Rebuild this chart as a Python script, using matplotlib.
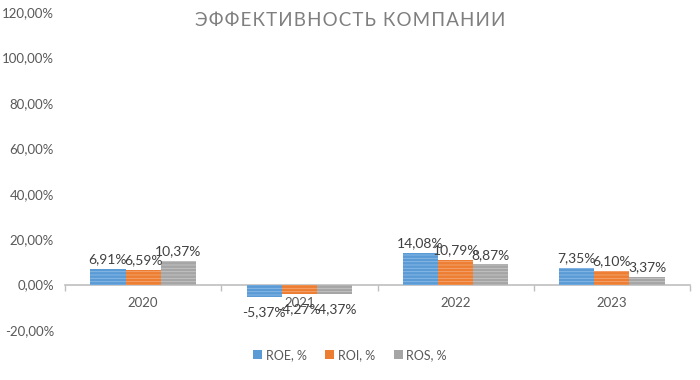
import matplotlib
matplotlib.use("Agg")
import matplotlib.pyplot as plt
import numpy as np
from matplotlib.patches import Patch

plt.rcParams['font.family'] = ['Lato', 'Open Sans', 'DejaVu Sans']
plt.rcParams['hatch.linewidth'] = 0.6

years = ["2020", "2021", "2022", "2023"]
roe = [6.91, -5.37, 14.08, 7.35]
roi = [6.59, -4.27, 10.79, 6.10]
ros = [10.37, -4.37, 8.87, 3.37]
series_names = ["ROE, %", "ROI, %", "ROS, %"]
yticks = [-20, 0, 20, 40, 60, 80, 100, 120]
title = "ЭФФЕКТИВНОСТЬ КОМПАНИИ"

colors = ["#5B9BD5", "#ED7D31", "#A5A5A5"]
hatch_colors = ["#8DBCE6", "#F4A877", "#C6C6C6"]
text_col = "#404040"
tick_col = "#595959"

def fmt(v):
    return f"{v:.2f}".replace(".", ",") + "%"

fig = plt.figure(figsize=(7, 3.8), dpi=100)
ax = fig.add_axes([65/700, 1-330/380, 625/700, 318/380])

x = np.arange(len(years))
w = 0.225
for i, (vals, c, hc) in enumerate(zip([roe, roi, ros], colors, hatch_colors)):
    pos = x + (i - 1) * w
    ax.bar(pos, vals, width=w, color=c, edgecolor=hc, hatch='-----', linewidth=0, zorder=3)
    for p, v in zip(pos, vals):
        if v >= 0:
            ax.text(p, v + 1.5, fmt(v), ha='center', va='bottom', fontsize=10, color=text_col, zorder=4)
        else:
            ax.text(p, v - 4.0, fmt(v), ha='center', va='top', fontsize=10, color=text_col, zorder=4)

ax.set_xlim(-0.5, len(years) - 0.5)
ax.set_ylim(-20, 120)
ax.set_yticks(yticks)
ax.set_yticklabels([fmt(t) for t in yticks])
ax.tick_params(axis='y', length=0, labelsize=9.5, labelcolor=tick_col, pad=8)

ax.set_xticks(x)
ax.set_xticklabels(years)
ax.set_xticks(np.arange(len(years) + 1) - 0.5, minor=True)
ax.tick_params(axis='x', which='major', length=0, labelsize=9.5, labelcolor=tick_col, pad=9)
ax.tick_params(axis='x', which='minor', length=4, color="#BFBFBF", width=1)

for s in ['top', 'right', 'left']:
    ax.spines[s].set_visible(False)
ax.spines['bottom'].set_position(('data', 0))
ax.spines['bottom'].set_color("#BFBFBF")
ax.spines['bottom'].set_linewidth(1.2)
ax.set_axisbelow(True)

spaced_title = "\u200a".join(title)
fig.text(350/700, 1-20/380, spaced_title, ha='center', va='center', fontsize=13.5,
         color="#7F7F7F")

handles = [Patch(facecolor=c, edgecolor='none') for c in colors]
fig.legend(handles, series_names, loc='center', bbox_to_anchor=(350/700, 1-355/380),
           ncol=3, frameon=False, fontsize=9, handlelength=0.7, handleheight=0.7,
           handletextpad=0.3, columnspacing=1.5, labelcolor=tick_col)

fig.savefig("out.png", dpi=100, facecolor='white')
